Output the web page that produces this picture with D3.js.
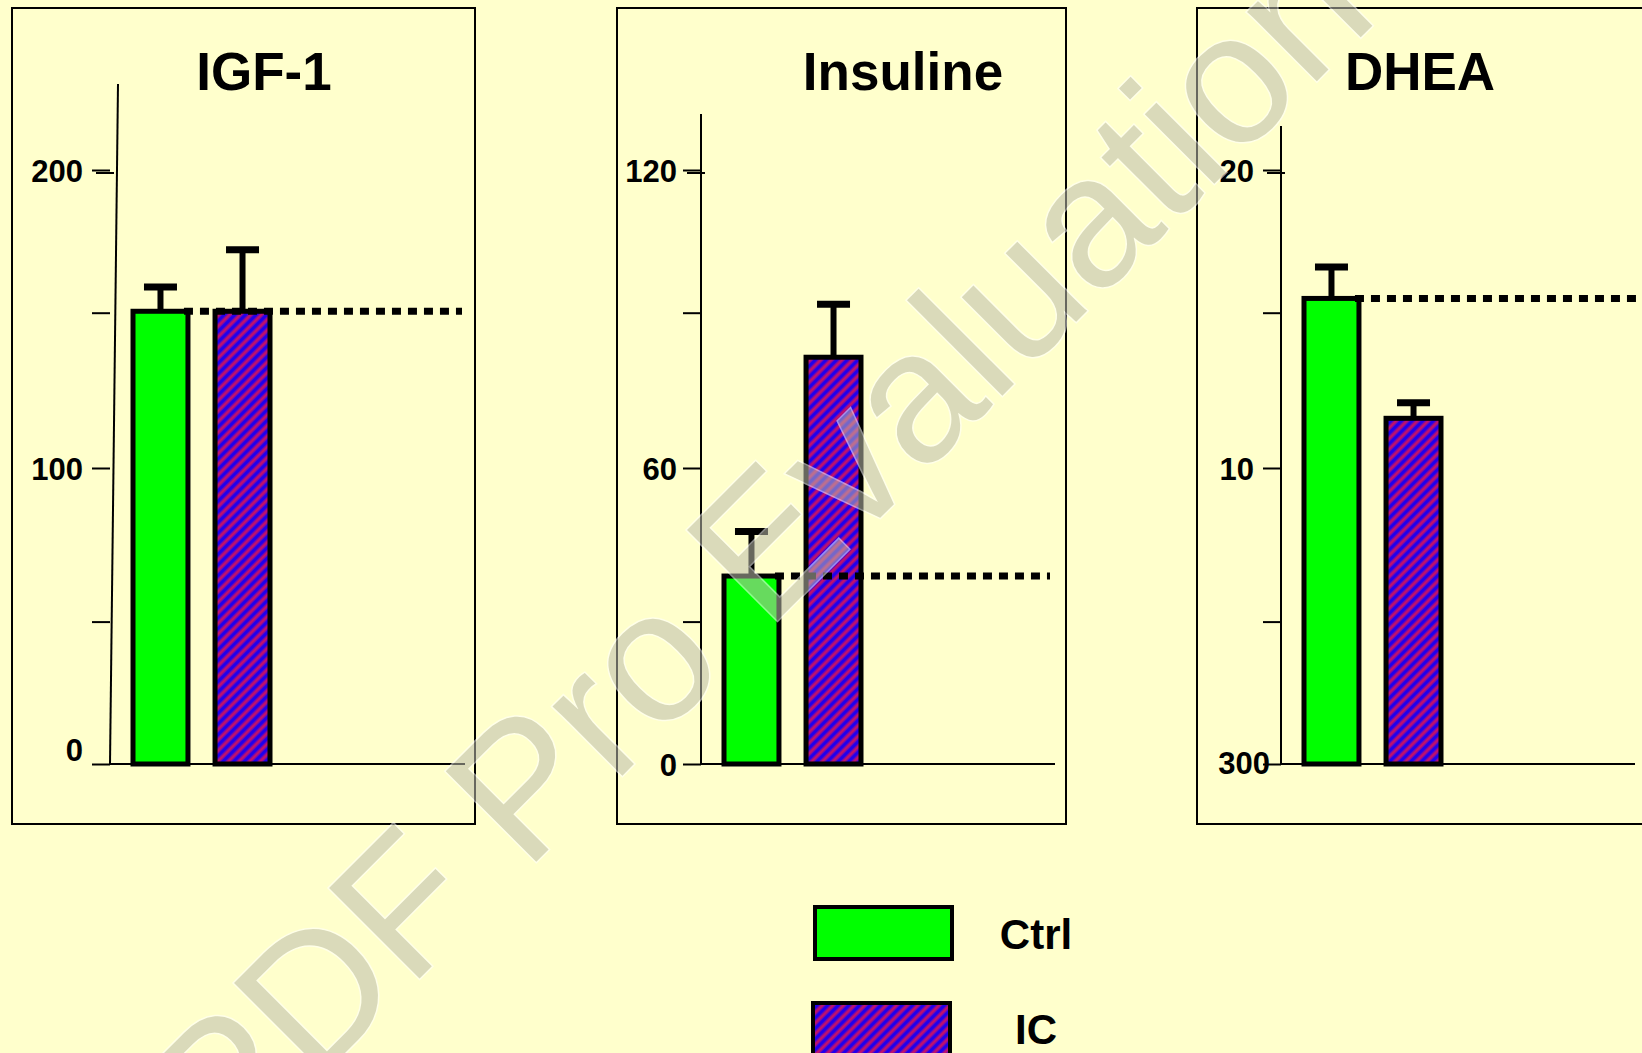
<!DOCTYPE html>
<html><head><meta charset="utf-8">
<script src="https://cdn.jsdelivr.net/npm/d3@7"></script>
<style>
html,body{margin:0;padding:0;background:#ffffcc;overflow:hidden}
svg{display:block}
text{font-family:"Liberation Sans",Arial,Helvetica,sans-serif;font-weight:bold;fill:#000}
</style></head><body>
<svg id="chart" width="1642" height="1053"></svg>
<script>
// ---------------- data ----------------
const panelTitles = ["IGF-1", "Insuline", "DHEA"];
const groups = ["Ctrl", "IC"];
const ctrlMeans = [150.5, 38.9, 15.5];
const ctrlErrors = [8.5, 8.7, 1.1];
const icMeans = [150.5, 81.4, 11.6];
const icErrors = [21.6, 10.4, 0.5];
const yTickValues = [[0, 50, 100, 150, 200], [0, 30, 60, 90, 120], [0, 5, 10, 15, 20]];
const yTickLabels = [["0", "", "100", "", "200"], ["0", "", "60", "", "120"], ["300", "", "10", "", "20"]];
const watermarkText = "PDF Pro Evaluation";

// ---------------- layout ----------------
const W = 1642, H = 1053;
const tickPixels = [764, 621.6, 468, 312.7, 170];
const layout = [
  {frame: [12, 8, 475, 824], axisX: 110, axisTopX: 118, axisTop: 84, axisEnd: 465, dashEnd: 462, titleX: 264, zeroShift: [0, -15], labelDx: 0},
  {frame: [617, 8, 1066, 824], axisX: 701, axisTopX: 701, axisTop: 114, axisEnd: 1055, dashEnd: 1050, titleX: 903, zeroShift: [0, 0], labelDx: 3},
  {frame: [1197, 8, 1720, 824], axisX: 1281, axisTopX: 1281, axisTop: 126, axisEnd: 1635, dashEnd: 1642, titleX: 1420, zeroShift: [16, -2], labelDx: 0}
];
const colors = {Ctrl: "#00ff00", IC: "url(#hatch)"};

const svg = d3.select("#chart");
svg.append("rect").attr("width", W).attr("height", H).attr("fill", "#ffffcc");

// hatch pattern (blue with crimson diagonal stripes)
const defs = svg.append("defs");
const pat = defs.append("pattern").attr("id", "hatch")
  .attr("patternUnits", "userSpaceOnUse").attr("width", 7.5).attr("height", 7.5)
  .attr("patternTransform", "rotate(45)");
pat.append("rect").attr("width", 7.5).attr("height", 7.5).attr("fill", "#2000ec");
pat.append("rect").attr("x", 0.2).attr("width", 1).attr("height", 7.5).attr("fill", "#7a0aa8");
pat.append("rect").attr("x", 1.2).attr("width", 2.4).attr("height", 7.5).attr("fill", "#cc1262");
pat.append("rect").attr("x", 3.6).attr("width", 1).attr("height", 7.5).attr("fill", "#7a0aa8");

panelTitles.forEach((title, i) => {
  const L = layout[i];
  const g = svg.append("g");
  const [fx0, fy0, fx1, fy1] = L.frame;
  g.append("rect").attr("x", fx0).attr("y", fy0).attr("width", fx1 - fx0).attr("height", fy1 - fy0)
    .attr("fill", "none").attr("stroke", "#000").attr("stroke-width", 2);

  g.append("text").attr("x", L.titleX).attr("y", 90).attr("text-anchor", "middle")
    .attr("font-size", 53).text(title);

  const y = d3.scaleLinear().domain(yTickValues[i]).range(tickPixels);
  const x = d3.scaleBand().domain(groups).range([L.axisX + 23, L.axisX + 160]).paddingInner(0.33);

  // y axis
  const ax = g.append("g").attr("transform", `translate(${L.axisX},0)`)
    .call(d3.axisLeft(y).tickValues(yTickValues[i]).tickFormat((d, j) => yTickLabels[i][j]).tickSize(18).tickPadding(9));
  ax.select(".domain").remove();
  ax.selectAll(".tick line").attr("stroke", "#000").attr("stroke-width", 2);
  ax.selectAll(".tick text").attr("font-size", 31).attr("font-family", "Liberation Sans, Arial, sans-serif")
    .attr("font-weight", "bold").attr("fill", "#000").attr("dy", "0.38em")
    .attr("transform", `translate(${L.labelDx},0)`);
  ax.selectAll(".tick").filter((d, j) => j === 0).select("text")
    .attr("transform", `translate(${L.zeroShift[0] + L.labelDx},${L.zeroShift[1]})`);
  // double top tick
  const topV = yTickValues[i][yTickValues[i].length - 1];
  ax.append("line").attr("x1", -14).attr("x2", 4).attr("y1", y(topV) + 3).attr("y2", y(topV) + 3)
    .attr("stroke", "#000").attr("stroke-width", 2);
  // axis lines
  g.append("line").attr("x1", L.axisX).attr("y1", y(0)).attr("x2", L.axisTopX).attr("y2", L.axisTop)
    .attr("stroke", "#000").attr("stroke-width", 2);
  g.append("line").attr("x1", L.axisX).attr("y1", y(0)).attr("x2", L.axisEnd).attr("y2", y(0))
    .attr("stroke", "#000").attr("stroke-width", 2);

  const data = [
    {g: "Ctrl", v: ctrlMeans[i], e: ctrlErrors[i]},
    {g: "IC", v: icMeans[i], e: icErrors[i]}
  ];
  const cx = d => x(d.g) + x.bandwidth() / 2;

  // error bars
  g.selectAll(".err").data(data).enter().append("line")
    .attr("x1", cx).attr("x2", cx).attr("y1", d => y(d.v)).attr("y2", d => y(d.v + d.e))
    .attr("stroke", "#000").attr("stroke-width", 6);
  g.selectAll(".cap").data(data).enter().append("line")
    .attr("x1", d => cx(d) - 16.5).attr("x2", d => cx(d) + 16.5)
    .attr("y1", d => y(d.v + d.e)).attr("y2", d => y(d.v + d.e))
    .attr("stroke", "#000").attr("stroke-width", 7);

  // bars
  g.selectAll(".bar").data(data).enter().append("rect")
    .attr("x", d => x(d.g)).attr("y", d => y(d.v))
    .attr("width", x.bandwidth()).attr("height", d => y(0) - y(d.v))
    .attr("fill", d => colors[d.g]).attr("stroke", "#000").attr("stroke-width", 5);

  // dotted reference line at control level
  g.append("line")
    .attr("x1", x("Ctrl") + x.bandwidth() - 4).attr("x2", L.dashEnd)
    .attr("y1", y(ctrlMeans[i])).attr("y2", y(ctrlMeans[i]))
    .attr("stroke", "#000").attr("stroke-width", 7).attr("stroke-dasharray", "9,7");
});

// legend
const legendPos = [{rx: 815, ry: 907, ty: 949}, {rx: 813, ry: 1003, ty: 1044}];
groups.forEach((grp, k) => {
  const p = legendPos[k];
  svg.append("rect").attr("x", p.rx).attr("y", p.ry).attr("width", 137).attr("height", 52)
    .attr("fill", colors[grp]).attr("stroke", "#000").attr("stroke-width", 4);
  svg.append("text").attr("x", 1036).attr("y", p.ty).attr("text-anchor", "middle")
    .attr("font-size", 42).text(grp);
});

// watermark
const wm = svg.append("g").attr("opacity", 0.55);
wm.append("text").attr("transform", "translate(226,1172) rotate(-45)")
  .attr("font-size", 186)
  .style("font-weight", "normal")
  .style("fill", "rgb(188,188,172)")
  .style("stroke", "#ffffff").style("stroke-width", 3).style("paint-order", "stroke")
  .text(watermarkText);
</script>
</body></html>
